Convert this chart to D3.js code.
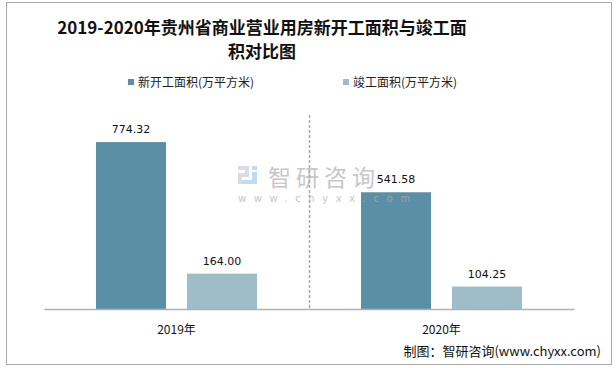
<!DOCTYPE html>
<html><head><meta charset="utf-8">
<script src="https://cdn.jsdelivr.net/npm/d3@7/dist/d3.min.js"></script>
<style>body{margin:0;background:#fff}svg{display:block}</style>
</head><body><svg id="c" width="616" height="368"></svg>
<script>
const categories = ["2019年", "2020年"];
const seriesNames = ["新开工面积(万平方米)", "竣工面积(万平方米)"];
const newStart = [774.32, 541.58];
const completed = [164.00, 104.25];
const colors = ["#5b8fa5", "#9fbcc9"];

const svg = d3.select("#c");
const font = "'Noto Sans CJK SC', 'Liberation Sans', sans-serif";
// frame
svg.append("rect").attr("x",6.5).attr("y",2.5).attr("width",605).attr("height",362)
  .attr("fill","none").attr("stroke","#aaa").attr("stroke-width",1);

// title
const title = svg.append("text").attr("text-anchor","middle").attr("font-family","'Noto Sans CJK SC', sans-serif")
  .attr("font-weight","bold").attr("font-size",17).attr("fill","#111");
title.append("tspan").attr("x",262).attr("y",34).text("2019-2020年贵州省商业营业用房新开工面积与竣工面");
title.append("tspan").attr("x",262).attr("y",58).text("积对比图");

// legend
const legX = [128, 343];
seriesNames.forEach((n,i)=>{
  svg.append("rect").attr("x",legX[i]).attr("y",79).attr("width",6).attr("height",6).attr("fill",colors[i]);
  svg.append("text").attr("x",legX[i]+10).attr("y",87).attr("font-family",font).attr("font-size",12).attr("fill","#222").text(n);
});

// scales
const x = d3.scaleBand().domain(categories).range([44, 574]).paddingInner(0).paddingOuter(0);
const x1 = d3.scaleBand().domain([0,1]).range([0, x.bandwidth()]).paddingInner(0.2308).paddingOuter(0.5714);
const y = d3.scaleLinear().domain([0, 900]).range([309, 115]);

// separator
svg.append("line").attr("x1",x(categories[1])+0.5).attr("x2",x(categories[1])+0.5).attr("y1",y(900)).attr("y2",y(0))
  .attr("stroke","#aaa").attr("stroke-width",1.5).attr("stroke-dasharray","3,2");

const data = [newStart, completed];
data.forEach((vals,si)=>{
  svg.selectAll(null).data(vals).enter().append("rect")
    .attr("x",(d,i)=>x(categories[i])+x1(si))
    .attr("y",d=>y(d)).attr("width",x1.bandwidth()).attr("height",d=>y(0)-y(d))
    .attr("fill",colors[si]);
});

// watermark (drawn over the bars, semi-transparent)
const wm = svg.append("g").attr("opacity",0.7);
wm.append("rect").attr("x",238).attr("y",166).attr("width",11).attr("height",4).attr("fill","#c6cfe0");
wm.append("rect").attr("x",245).attr("y",166).attr("width",4).attr("height",10).attr("fill","#c6cfe0");
wm.append("rect").attr("x",238).attr("y",173).attr("width",11).attr("height",4).attr("fill","#c6cfe0");
wm.append("rect").attr("x",238).attr("y",173).attr("width",4).attr("height",11).attr("fill","#c6cfe0");
wm.append("rect").attr("x",252).attr("y",166).attr("width",5).attr("height",4).attr("fill","#a9cbe6");
wm.append("rect").attr("x",252).attr("y",172).attr("width",5).attr("height",12).attr("fill","#a9cbe6");
wm.append("rect").attr("x",242).attr("y",180).attr("width",15).attr("height",4).attr("fill","#a9cbe6");
wm.append("text").attr("x",268).attr("y",186).attr("font-family",font).attr("font-size",23)
  .attr("fill","#b0b0b0").attr("letter-spacing",5).text("智研咨询");
wm.append("text").attr("x",238).attr("y",202).attr("font-family","'DejaVu Sans', sans-serif").attr("font-size",10)
  .attr("fill","#b0b0b0").attr("letter-spacing",7.6).text("www.chyxx.com");

// data labels
data.forEach((vals,si)=>{
  svg.selectAll(null).data(vals).enter().append("text")
    .attr("x",(d,i)=>x(categories[i])+x1(si)+x1.bandwidth()/2)
    .attr("y",d=>y(d)-9).attr("text-anchor","middle")
    .attr("font-family","'DejaVu Sans', sans-serif").attr("font-size",11).attr("fill","#111")
    .text(d=>d.toFixed(2));
});

// x axis
const xa = svg.append("g").attr("transform",`translate(0,${y(0)})`)
  .call(d3.axisBottom(x).tickSize(0).tickPadding(16));
xa.select(".domain").attr("stroke","#b0b0b0").attr("stroke-width",1.5);
xa.selectAll("text").attr("font-family",font).attr("font-size",12).attr("fill","#111");

// source
svg.append("text").attr("x",601).attr("y",356).attr("text-anchor","end")
  .attr("font-family",font).attr("font-size",13).attr("fill","#111")
  .text("制图：智研咨询(www.chyxx.com)");
</script></body></html>
